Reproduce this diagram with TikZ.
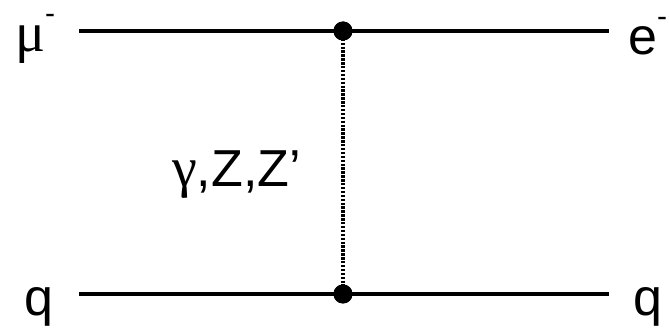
\documentclass[tikz,border=0pt]{standalone}
\usepackage{fontspec}
\setmainfont{Liberation Sans}
\newfontfamily\grk{Liberation Serif}
\begin{document}
\begin{tikzpicture}[x=1pt,y=1pt,
  fermion/.style={line width=3.5pt},
  boson/.style={line width=3.2pt, dash pattern=on 2.4pt off 1.5pt},
  vtx/.style={circle, fill=black, inner sep=0pt, minimum size=19pt},
  lbl/.style={anchor=base west, inner sep=0pt, font=\fontsize{52}{60}\selectfont}]
\useasboundingbox (0,0) rectangle (670,327);
\coordinate (l1) at (79,296);
\coordinate (r1) at (609,296);
\coordinate (l2) at (79,33);
\coordinate (r2) at (609,33);
\node[vtx] (v1) at (343,296) {};
\node[vtx] (v2) at (343,33) {};
\draw[boson] (v1.center) -- (v2.center);
\draw[fermion] (l1) -- (v1.center) -- (r1);
\draw[fermion] (l2) -- (v2.center) -- (r2);
\node[vtx] at (v1.center) {};
\node[vtx] at (v2.center) {};
\node[lbl] (mu) at (15,275) {{\grk\fontsize{56}{60}\selectfont μ}\raisebox{0.55em}{\fontsize{30}{30}\selectfont -}};
\node[lbl] (e) at (628,272) {e\raisebox{0.55em}{\fontsize{30}{30}\selectfont -}};
\node[lbl] (q1) at (24,12) {q};
\node[lbl] (q2) at (633,12) {q};
\node[lbl] (g) at (172,140) {{\grk\fontsize{56}{60}\selectfont γ},Z,Z’};
\end{tikzpicture}
\end{document}
